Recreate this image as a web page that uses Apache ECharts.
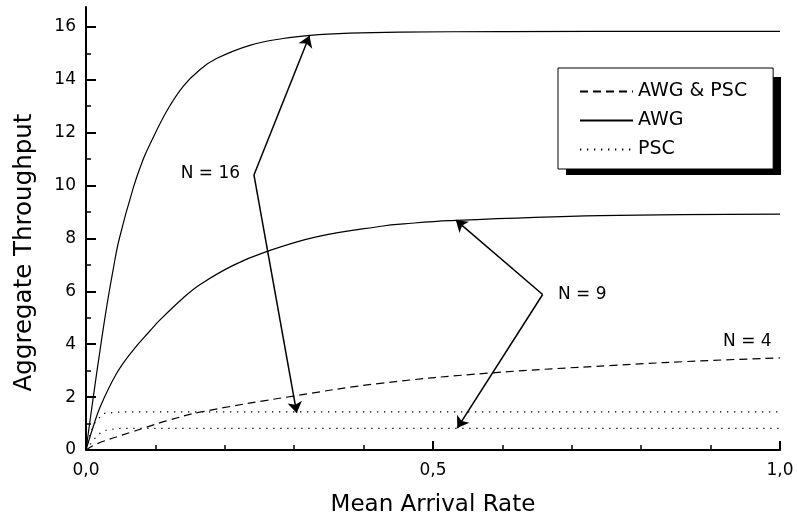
<!DOCTYPE html>
<html>
<head>
<meta charset="utf-8">
<script src="https://cdn.jsdelivr.net/npm/echarts@6/dist/echarts.min.js"></script>
<style>
  html, body { margin: 0; padding: 0; background: #fff; }
  #chart { width: 797px; height: 523px; }
</style>
</head>
<body>
<div id="chart"></div>
<script>
// Tick positions (axis units)
const xLabelTicks = [0, 0.5, 1];
const xMinorTicks = [0.1, 0.2, 0.3, 0.4, 0.6, 0.7, 0.8, 0.9];
const yLabelTicks = [0, 2, 4, 6, 8, 10, 12, 14, 16];
const yMinorTicks = [1, 3, 5, 7, 9, 11, 13, 15];

// Throughput curves: [mean arrival rate, aggregate throughput]
const awgN16 = [[0, 0], [0.0105, 2.0], [0.0202, 3.77], [0.03, 5.45], [0.039, 6.8], [0.0476, 7.95],
  [0.068, 9.9], [0.0826, 11.0], [0.092, 11.55], [0.116, 12.8], [0.14, 13.75],
  [0.164, 14.38], [0.188, 14.8], [0.236, 15.3], [0.284, 15.56], [0.323, 15.68],
  [0.38, 15.76], [0.452, 15.8], [0.6, 15.82], [1.0, 15.83]];
const awgN9 = [[0, 0], [0.01, 0.85], [0.0202, 1.62], [0.044, 2.89], [0.068, 3.78], [0.092, 4.5],
  [0.1066, 4.92], [0.14, 5.75], [0.164, 6.25], [0.212, 6.98], [0.26, 7.5], [0.332, 8.06],
  [0.428, 8.47], [0.458, 8.55], [0.524, 8.67], [0.741, 8.86], [1.0, 8.92]];
const bothN4 = [[0, 0], [0.0154, 0.23], [0.068, 0.7], [0.087, 0.86], [0.116, 1.1],
  [0.164, 1.43], [0.299, 2.04], [0.424, 2.52], [0.582, 2.91],
  [0.76, 3.2], [0.904, 3.39], [1.0, 3.48]];
const pscN16 = [[0, 0], [0.006, 0.6], [0.012, 1.0], [0.025, 1.38], [0.05, 1.44], [1.0, 1.44]];
const pscN9 = [[0, 0], [0.0115, 0.4], [0.02, 0.63], [0.03, 0.76], [0.05, 0.82], [1.0, 0.82]];

// Annotations: text with its anchor, and arrows from a vertex to a curve
const noteTexts = ['N = 16', 'N = 9', 'N = 4'];
const noteAnchors = [[0.222, 10.44], [0.68, 5.89], [0.988, 4.11]];
const noteSides = ['left', 'right', 'left'];
const arrowSegments = [
  [[0.242, 10.4], [0.322, 15.66]],
  [[0.242, 10.4], [0.3036, 1.40]],
  [[0.658, 5.88], [0.533, 8.69]],
  [[0.658, 5.88], [0.535, 0.83]]
];

const FONT = "'DejaVu Sans', sans-serif";
const DASHED = [8, 5];
const DOTTED = [1.3, 5.7];

function curve(name, data, dash, smooth) {
  return {
    type: 'line', name: name, data: data,
    showSymbol: false, symbol: 'none',
    smooth: smooth,
    lineStyle: { color: '#000', width: 1.2, type: dash },
    itemStyle: { color: '#000' },
    silent: true, z: 3
  };
}

const fmtX = v => v.toFixed(1).replace('.', ',');

const LEGEND_BOX = { left: 558, top: 68, width: 215, height: 98 };

const option = {
  animation: false,
  backgroundColor: '#fff',
  textStyle: { fontFamily: FONT },
  grid: { left: 86, right: 17, top: 7, bottom: 73 },
  xAxis: [
    {
      type: 'value', position: 'bottom', min: 0, max: 1, interval: 0.1,
      name: 'Mean Arrival Rate', nameLocation: 'middle', nameGap: 44,
      nameTextStyle: { fontFamily: FONT, fontSize: 23, color: '#000' },
      axisLine: { show: true, onZero: false, lineStyle: { color: '#000', width: 2 } },
      axisTick: { show: true, inside: true, length: 9, customValues: xLabelTicks, lineStyle: { color: '#000', width: 2 } },
      axisLabel: { show: true, customValues: xLabelTicks, margin: 12, formatter: fmtX,
        fontFamily: FONT, fontSize: 17, color: '#000' },
      splitLine: { show: false }
    },
    {
      type: 'value', position: 'bottom', min: 0, max: 1, interval: 0.1,
      axisLine: { show: false },
      axisTick: { show: true, inside: true, length: 5, customValues: xMinorTicks, lineStyle: { color: '#000', width: 1.5 } },
      axisLabel: { show: false },
      splitLine: { show: false }
    }
  ],
  yAxis: [
    {
      type: 'value', position: 'left', min: 0, max: 16.75, interval: 2,
      name: 'Aggregate Throughput', nameLocation: 'middle', nameGap: 49,
      nameTextStyle: { fontFamily: FONT, fontSize: 24.5, color: '#000', padding: [0, 48, 0, 0] },
      axisLine: { show: true, onZero: false, lineStyle: { color: '#000', width: 2 } },
      axisTick: { show: true, inside: true, length: 10, customValues: yLabelTicks, lineStyle: { color: '#000', width: 2 } },
      axisLabel: { show: true, customValues: yLabelTicks, margin: 10,
        fontFamily: FONT, fontSize: 17, color: '#000' },
      splitLine: { show: false }
    },
    {
      type: 'value', position: 'left', min: 0, max: 16.75, interval: 2,
      axisLine: { show: false },
      axisTick: { show: true, inside: true, length: 5, customValues: yMinorTicks, lineStyle: { color: '#000', width: 1.5 } },
      axisLabel: { show: false },
      splitLine: { show: false }
    }
  ],
  // drop shadow behind the legend box
  graphic: [{
    type: 'rect', z: 1, silent: true,
    left: LEGEND_BOX.left + 8, top: LEGEND_BOX.top + 9,
    shape: { width: LEGEND_BOX.width, height: LEGEND_BOX.height },
    style: { fill: '#000' }
  }],
  legend: {
    data: ['AWG & PSC', 'AWG', 'PSC'],
    orient: 'vertical', left: LEGEND_BOX.left, top: LEGEND_BOX.top,
    padding: [14, 26, 10, 21],
    itemWidth: 53, itemHeight: 14, itemGap: 10,
    backgroundColor: '#fff', borderColor: '#000', borderWidth: 1, borderRadius: 0,
    selectedMode: false, z: 10,
    itemStyle: { opacity: 0 },
    textStyle: { fontFamily: FONT, fontSize: 19, color: '#000' }
  },
  series: [
    curve('AWG & PSC', bothN4, DASHED, 0.4),
    curve('AWG', awgN16, 'solid', 0.4),
    curve('AWG', awgN9, 'solid', 0.4),
    curve('PSC', pscN16, DOTTED, false),
    curve('PSC', pscN9, DOTTED, false),
    {
      type: 'lines', name: 'arrows', coordinateSystem: 'cartesian2d',
      data: arrowSegments.map(seg => ({ coords: seg })),
      symbol: ['none', 'arrow'], symbolSize: 11,
      lineStyle: { color: '#000', width: 1.5, opacity: 1, curveness: 0 },
      silent: true, z: 5
    },
    {
      type: 'scatter', name: 'notes', symbolSize: 0, silent: true, z: 6,
      data: noteAnchors.map((p, i) => ({
        value: p,
        label: {
          show: true, position: noteSides[i], distance: 0,
          formatter: noteTexts[i],
          fontFamily: FONT, fontSize: 17, color: '#000', opacity: 1
        }
      }))
    }
  ]
};

const chart = echarts.init(document.getElementById('chart'), null, { renderer: 'canvas' });
chart.setOption(option);
</script>
</body>
</html>
